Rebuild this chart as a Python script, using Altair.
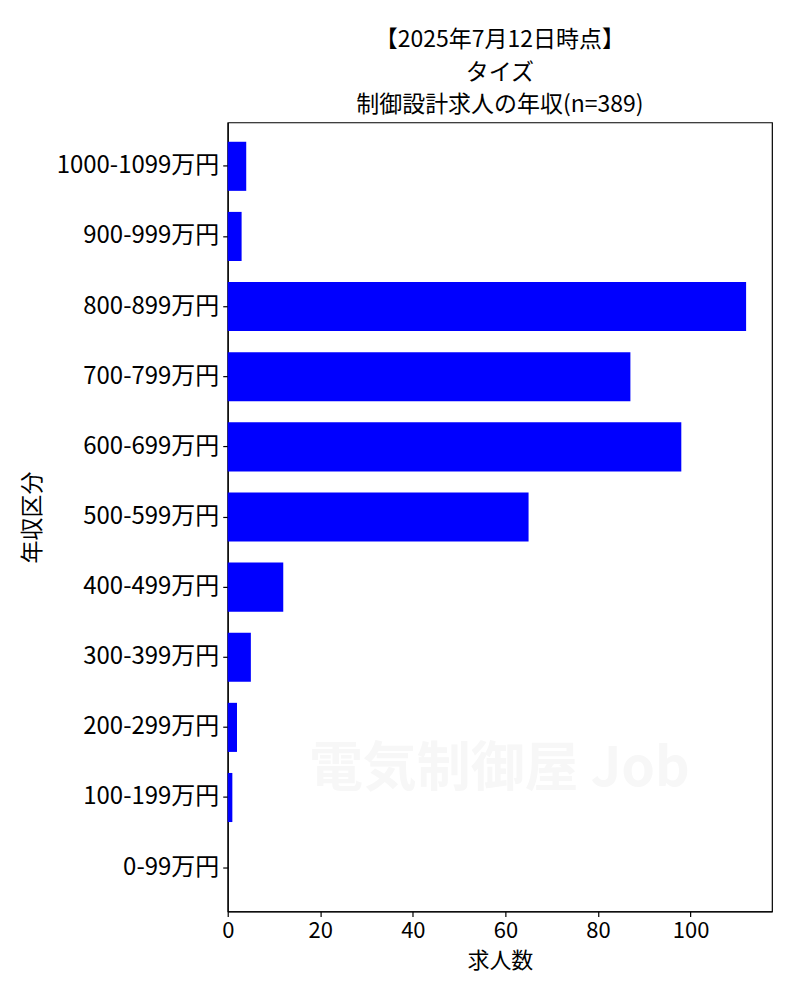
import altair as alt
import pandas as pd

categories = ["0-99万円", "100-199万円", "200-299万円", "300-399万円", "400-499万円",
              "500-599万円", "600-699万円", "700-799万円", "800-899万円", "900-999万円",
              "1000-1099万円"]
counts = [0, 1, 2, 5, 12, 65, 98, 87, 112, 3, 4]
title_lines = ["【2025年7月12日時点】", "タイズ", "制御設計求人の年収(n=389)"]
x_ticks = [0, 20, 40, 60, 80, 100]

df = pd.DataFrame({"cat": categories, "n": counts})
order = list(reversed(categories))
FONT = "Noto Sans CJK JP"

bars = alt.Chart(df).mark_bar(color="#0000ff").encode(
    y=alt.Y("cat:N", sort=order,
            scale=alt.Scale(paddingInner=0.3, paddingOuter=0.275),
            axis=alt.Axis(title="年収区分", labelFontSize=24, titleFontSize=23,
                          titleFontWeight="normal", labelColor="black", titleColor="black",
                          tickColor="black", domainColor="black", tickSize=5,
                          labelPadding=4, titlePadding=12, labelFont=FONT, titleFont=FONT)),
    x=alt.X("n:Q", scale=alt.Scale(domain=[0, 117.6], nice=False, zero=True),
            axis=alt.Axis(title="求人数", values=x_ticks, labelFontSize=22, titleFontSize=22,
                          titleFontWeight="normal", labelColor="black", titleColor="black",
                          tickColor="black", domainColor="black", tickSize=5, grid=False,
                          labelPadding=4, titlePadding=9, labelFont=FONT, titleFont=FONT,
                          labelFlush=False)),
)

wm = alt.Chart(pd.DataFrame({"t": ["電気制御屋 Job"]})).mark_text(
    fontSize=54, font=FONT, fontWeight="bold", color="#f7f7f7", align="center", baseline="middle"
).encode(text="t:N", x=alt.value(272), y=alt.value(648))

chart = alt.layer(wm, bars).properties(
    width=545, height=790,
    title=alt.TitleParams(text=title_lines, fontSize=23, font=FONT, fontWeight="normal",
                          color="black", anchor="middle", lineHeight=33, offset=5),
    padding={"left": 220, "top": 114, "right": 20, "bottom": 70},
    autosize=alt.AutoSizeParams(type="none"),
).configure_view(stroke="black", strokeWidth=1.2).configure_axis(domainWidth=1.2, tickWidth=1.2)

chart.save("out.html", embed_options={"renderer": "svg", "actions": False})
